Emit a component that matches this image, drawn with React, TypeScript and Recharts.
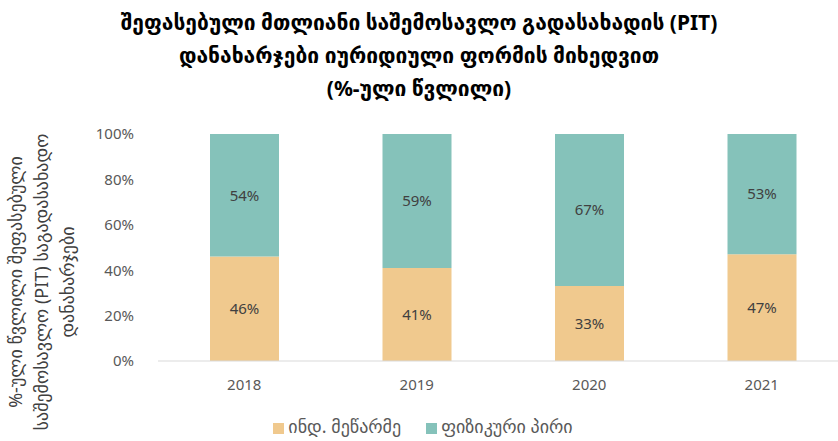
import React from 'react';
import { BarChart, Bar, XAxis, YAxis, LabelList, Legend } from 'recharts';

const YEARS = ['2018', '2019', '2020', '2021'];
const ENTREPRENEUR = [46, 41, 33, 47]; // ინდ. მეწარმე
const PERSON = [54, 59, 67, 53]; // ფიზიკური პირი
const Y_TICKS = [0, 20, 40, 60, 80, 100];

const TITLE_LINES = [
    'შეფასებული მთლიანი საშემოსავლო გადასახადის (PIT)',
    'დანახარჯები იურიდიული ფორმის მიხედვით',
    '(%-ული წვლილი)',
];
const Y_LABEL_LINES = [
    '%-ული წვლილი შეფასებული',
    'საშემოსავლო (PIT) საგადასახადო',
    'დანახარჯები',
];

const COLORS = ['#F0C98E', '#85C2BA'];
const FONT = "'Noto Sans', 'DejaVu Sans', sans-serif";

const data = YEARS.map((year, i) => ({
    year,
    entrepreneur: ENTREPRENEUR[i],
    person: PERSON[i],
}));

const YLabel = () => (
    <g>
        {Y_LABEL_LINES.map((line, i) => (
            <text
                key={i}
                x={0}
                y={0}
                transform={`translate(${22 + i * 26}, 282) rotate(-90)`}
                textAnchor="middle"
                fontSize={18}
                fill="#404040"
                fontFamily={FONT}
            >
                {line}
            </text>
        ))}
    </g>
);

const App: React.FC = () => {
    return (
        <div style={{ position: 'absolute', left: 0, top: 0, width: 838, height: 441, overflow: 'hidden', background: '#fff' }}>
            <div
                style={{
                    position: 'absolute',
                    top: 6,
                    left: 0,
                    width: 838,
                    textAlign: 'center',
                    fontFamily: FONT,
                    fontWeight: 'bold',
                    fontSize: 21,
                    lineHeight: '33px',
                    color: '#000',
                    zIndex: 2,
                }}
            >
                {TITLE_LINES.map((l, i) => (
                    <div key={i}>{l}</div>
                ))}
            </div>
            <BarChart
                width={850}
                height={441}
                data={data}
                margin={{ top: 134, right: 2, left: 0, bottom: 50 }}
                barSize={69}
            >
                <XAxis
                    dataKey="year"
                    axisLine={{ stroke: '#d9d9d9' }}
                    tickLine={false}
                    tickMargin={12}
                    height={30}
                    tick={{ fill: '#595959', fontSize: 15, fontFamily: FONT }}
                />
                <YAxis
                    width={158}
                    domain={[0, 100]}
                    ticks={Y_TICKS}
                    tickFormatter={(v) => `${v}%`}
                    axisLine={false}
                    tickLine={false}
                    tickMargin={18}
                    tick={{ fill: '#595959', fontSize: 15, fontFamily: FONT }}
                    label={{ content: () => <YLabel /> }}
                />
                <Legend
                    layout="horizontal"
                    verticalAlign="middle"
                    align="center"
                    iconType="square"
                    iconSize={11}
                    wrapperStyle={{ top: 414, left: 9, width: 838, fontFamily: FONT, fontSize: 18 }}
                    formatter={(value, _entry, index) => (
                        <span style={{ color: '#595959', paddingRight: index === 0 ? 15 : 0 }}>{value}</span>
                    )}
                />
                <Bar dataKey="entrepreneur" name="ინდ. მეწარმე" stackId="a" fill={COLORS[0]} isAnimationActive={false}>
                    <LabelList
                        dataKey="entrepreneur"
                        position="center"
                        formatter={(v: any) => `${v}%`}
                        style={{ fill: '#404040', fontSize: 15, fontFamily: FONT }}
                    />
                </Bar>
                <Bar dataKey="person" name="ფიზიკური პირი" stackId="a" fill={COLORS[1]} isAnimationActive={false}>
                    <LabelList
                        dataKey="person"
                        position="center"
                        formatter={(v: any) => `${v}%`}
                        style={{ fill: '#404040', fontSize: 15, fontFamily: FONT }}
                    />
                </Bar>
            </BarChart>
        </div>
    );
};

export default App;
